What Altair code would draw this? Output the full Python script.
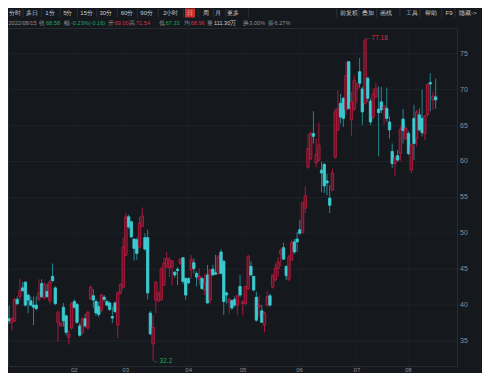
import altair as alt
import pandas as pd

# ---------------- data ----------------
opens = [38.1, 37.6, 37.8, 40.8, 41.2, 42.4, 43.2, 41.4, 40.6, 40.0,
         40.0, 40.8, 43.0, 41.0, 41.9, 40.6, 44.0, 42.4, 37.6, 37.1,
         39.7, 38.5, 35.5, 36.8, 40.5, 40.1, 37.1, 36.2, 38.1, 36.8,
         40.9, 41.3, 40.5, 39.8, 39.3, 41.1, 40.5, 40.3, 38.4, 40.3,
         37.2, 41.7, 42.5, 47.0, 52.3, 51.6, 49.2, 49.1, 48.1, 51.0,
         49.4, 49.4, 38.9, 34.6, 40.7, 40.6, 40.8, 42.8, 45.3, 45.2,
         45.3, 44.6, 45.0, 45.8, 46.6, 43.7, 43.7, 44.9, 45.9, 44.4,
         43.6, 43.7, 42.1, 44.2, 40.7, 45.0, 44.5, 44.4, 47.4, 46.1,
         41.7, 40.4, 40.6, 40.8, 40.0, 42.6, 40.2, 40.2, 42.3, 45.4,
         44.0, 41.1, 39.8, 39.2, 37.2, 40.0, 41.3, 42.5, 43.5, 45.1,
         47.1, 48.0, 45.4, 43.6, 46.3, 48.8, 49.2, 50.5, 50.1, 53.5,
         59.2, 60.4, 63.9, 59.8, 60.2, 58.8, 59.6, 57.3, 54.9, 56.0,
         60.6, 64.4, 68.1, 68.8, 67.2, 73.9, 65.8, 67.3, 70.1, 72.5,
         70.1, 68.1, 71.6, 68.4, 66.2, 69.0, 67.3, 68.3, 67.3, 67.4,
         65.5, 61.4, 59.7, 60.8, 61.1, 65.9, 63.2, 63.9, 58.8, 66.0,
         63.2, 66.5, 66.0, 63.9, 66.5, 71.0, 68.6, 69.00]
highs = [39.9, 38.3, 41.0, 41.2, 43.7, 43.2, 43.3, 41.6, 41.2, 41.2,
         41.2, 43.6, 43.6, 43.2, 43.0, 43.5, 45.8, 42.6, 39.2, 37.6,
         40.3, 38.7, 36.5, 40.4, 40.8, 40.3, 37.5, 38.3, 38.8, 39.2,
         42.7, 42.2, 40.8, 40.5, 41.6, 41.4, 40.8, 40.5, 39.8, 40.5,
         41.9, 43.0, 49.4, 52.8, 52.6, 51.8, 49.3, 49.4, 52.3, 53.6,
         50.0, 50.5, 39.2, 38.6, 43.3, 41.9, 45.3, 46.6, 47.4, 46.7,
         46.3, 44.7, 45.3, 46.5, 46.7, 43.9, 43.9, 47.0, 46.5, 44.7,
         45.1, 44.0, 44.4, 45.6, 45.0, 45.6, 47.0, 47.0, 47.8, 46.3,
         41.9, 41.0, 40.8, 41.2, 41.4, 44.2, 40.6, 42.7, 47.0, 46.1,
         44.1, 41.9, 41.3, 40.0, 39.1, 41.9, 41.6, 44.3, 45.8, 46.7,
         47.9, 48.7, 45.5, 47.0, 49.1, 49.2, 50.2, 51.9, 54.4, 56.5,
         63.9, 64.2, 67.0, 63.2, 65.4, 60.0, 59.8, 58.3, 56.7, 59.0,
         67.4, 69.9, 69.4, 69.0, 73.9, 74.0, 69.7, 72.0, 71.0, 74.4,
         70.4, 77.18, 71.8, 68.8, 70.2, 71.0, 70.5, 70.4, 67.9, 70.3,
         66.3, 62.5, 60.8, 61.6, 64.9, 67.3, 64.9, 64.2, 62.5, 67.9,
         67.2, 67.4, 70.0, 66.5, 70.9, 72.3, 69.7, 71.54]
lows = [37.4, 36.5, 37.6, 40.0, 40.7, 41.9, 39.8, 38.9, 39.8, 37.2,
        39.3, 40.6, 41.0, 40.8, 41.0, 40.2, 43.2, 40.0, 34.9, 37.0,
        37.0, 35.8, 34.5, 36.6, 39.5, 37.4, 35.6, 36.0, 36.9, 36.6,
        40.7, 39.6, 38.5, 38.3, 39.0, 40.5, 39.8, 39.2, 37.5, 38.9,
        35.4, 41.5, 42.3, 46.8, 50.6, 49.3, 46.2, 46.3, 47.9, 50.8,
        47.6, 40.8, 35.8, 32.2, 38.9, 40.4, 40.6, 42.7, 45.2, 43.9,
        42.8, 43.8, 42.8, 45.6, 42.9, 40.7, 42.9, 43.7, 44.4, 42.6,
        42.8, 42.1, 41.4, 40.2, 40.2, 44.1, 44.2, 44.3, 44.3, 38.6,
        40.2, 38.8, 39.3, 39.8, 38.6, 41.1, 38.6, 40.0, 42.1, 44.0,
        41.9, 37.7, 38.4, 37.5, 36.2, 39.8, 39.8, 42.3, 43.3, 44.0,
        45.4, 46.3, 43.5, 43.3, 46.2, 47.1, 47.4, 49.8, 50.0, 52.8,
        59.0, 60.2, 62.5, 59.2, 60.0, 55.7, 55.6, 55.3, 52.8, 55.9,
        60.4, 64.2, 65.3, 64.8, 66.5, 67.2, 63.5, 67.0, 68.1, 70.3,
        65.1, 67.9, 68.3, 65.1, 65.9, 68.8, 60.7, 66.7, 65.1, 65.5,
        63.2, 59.1, 57.9, 60.0, 60.1, 62.5, 63.0, 60.9, 58.4, 60.2,
        62.1, 64.2, 63.5, 63.0, 66.3, 67.0, 67.2, 67.33]
closes = [37.8, 38.1, 40.8, 40.2, 42.0, 42.0, 40.0, 40.7, 40.0, 39.7,
          39.5, 41.7, 41.2, 42.8, 41.2, 43.2, 43.4, 40.2, 39.0, 37.5,
          37.8, 36.2, 36.0, 40.2, 39.7, 37.6, 35.8, 38.1, 37.1, 39.0,
          42.5, 40.7, 38.9, 38.7, 41.4, 40.8, 40.0, 39.4, 38.2, 39.1,
          41.7, 42.9, 48.1, 52.3, 50.9, 49.5, 47.9, 47.2, 51.4, 52.4,
          47.8, 41.7, 36.0, 36.9, 43.2, 41.6, 45.0, 45.8, 46.5, 46.3,
          46.1, 44.2, 44.8, 46.4, 43.3, 41.4, 43.1, 46.3, 45.1, 43.9,
          44.0, 42.3, 43.0, 40.3, 44.9, 44.2, 44.3, 46.7, 44.4, 40.5,
          41.4, 40.8, 39.6, 40.0, 41.3, 41.4, 40.5, 42.6, 46.8, 44.2,
          42.1, 37.9, 40.0, 37.6, 38.9, 41.2, 40.0, 44.1, 45.1, 46.0,
          47.6, 46.4, 44.1, 46.7, 48.7, 47.4, 48.8, 50.0, 54.3, 55.2,
          61.8, 63.9, 63.5, 61.0, 62.3, 58.4, 56.6, 57.0, 53.9, 58.4,
          66.9, 67.3, 66.2, 66.0, 72.0, 67.4, 68.3, 71.3, 70.7, 70.9,
          66.9, 76.9, 68.8, 65.5, 69.4, 70.2, 66.8, 67.2, 67.7, 66.0,
          64.4, 59.7, 60.4, 60.2, 64.5, 64.3, 64.6, 61.1, 62.3, 62.5,
          66.9, 64.4, 64.0, 66.3, 70.7, 70.8, 69.1, 68.58]

month_labels = ["02", "03", "04", "05", "06", "07", "08"]
month_pos = [24.0, 42.9, 66.1, 86.1, 106.9, 128.0, 146.9]
price_ticks = [35, 40, 45, 50, 55, 60, 65, 70, 75]

toolbar_left = ["分时", "多日", "1分", "5分", "15分", "30分", "60分", "90分",
                "2小时", "日", "周", "月", "更多"]
toolbar_right = ["前复权", "叠加", "画线", "工具", "帮助", "F9", "隐藏->"]

info_texts = ["2022/08/15", "收", "68.58", "幅", "-0.23%(-0.16)", "开", "69.00",
              "高", "71.54", "低", "67.33", "均", "68.96", "量", "111.30万",
              "换", "3.00%", "振", "6.27%"]

# ---------------- layout / style ----------------
W, H = 449, 338
BG = "#15181d"
GRID = "#1f242a"
RED = "#c41d44"
RED_FILL = "#5e1426"
RED_WICK = "#a8183c"
CYAN = "#3ccbd2"
CYAN_WICK = "#24878f"
GREEN = "#1ea765"
RED_TXT = "#d8304a"
TXT = "#c9ccd1"
GRAY = "#8d9198"
FONT = "Liberation Sans"

toolbar_left_x = [6.5, 23.7, 42, 59.8, 78.7, 97.8, 119, 138.7, 162.8, 182, 197.7, 210.3, 225.3]
toolbar_right_x = [340.7, 359.5, 378, 403.7, 423, 441, 460]
sep_x = [15, 33.7, 52, 69.3, 88.7, 109.3, 129.3, 150.3, 175.3, 190.3, 205.3,
         217.7, 240.3, 328.7, 351, 368.7, 392, 412, 433.7, 447]
info_x = [0.5, 31, 38, 56.3, 63, 100.3, 106.5, 121.3, 128, 151.3, 157.7,
          176.3, 182.7, 199.3, 206, 234.8, 241.3, 260.3, 266.5]
info_kind = ["g", "g", "d", "g", "d", "g", "u", "g", "u", "g", "d", "g", "u",
             "g", "w", "g", "g", "g", "g"]
kind_color = {"g": GRAY, "d": GREEN, "u": RED_TXT, "w": TXT}

df = pd.DataFrame({"k": list(range(len(opens))), "open": opens, "high": highs,
                   "low": lows, "close": closes})

xs = alt.Scale(domain=[1.44, 163.0], nice=False, zero=False)
ys = alt.Scale(domain=[31.52, 78.59], nice=False, zero=False)
up = "datum.close >= datum.open"

ticks_df = pd.DataFrame({"p": price_ticks, "lab": [str(p) for p in price_ticks]})
hgrid = alt.Chart(ticks_df).mark_rule(color=GRID, strokeWidth=1).encode(
    y=alt.Y("p:Q", scale=ys, axis=None))
ylabels = alt.Chart(ticks_df).mark_text(
    align="left", baseline="middle", fontSize=7, color=GRAY, font=FONT
).encode(y=alt.Y("p:Q", scale=ys, axis=None), x=alt.value(W + 3), text="lab:N")

vgrid = alt.Chart(pd.DataFrame({"pos": month_pos})).mark_rule(
    color="#1b1f25", strokeWidth=1).encode(x=alt.X("pos:Q", scale=xs, axis=None))

wick = alt.Chart(df).mark_rule(strokeWidth=1, clip=True).encode(
    x=alt.X("k:Q", scale=xs, axis=None),
    y=alt.Y("low:Q", scale=ys, axis=None),
    y2="high:Q",
    color=alt.condition(up, alt.value(RED_WICK), alt.value(CYAN_WICK)),
)

body = alt.Chart(df).mark_bar(width=2.4, clip=True, strokeWidth=0.8).encode(
    x=alt.X("k:Q", scale=xs, axis=None),
    y=alt.Y("open:Q", scale=ys, axis=None),
    y2="close:Q",
    fill=alt.condition(up, alt.value(RED_FILL), alt.value(CYAN)),
    stroke=alt.condition(up, alt.value(RED), alt.value(CYAN)),
)

k_low = lows.index(min(lows))
k_high = highs.index(max(highs))
low_ann = alt.Chart(pd.DataFrame({"k": [k_low], "v": [lows[k_low]],
                                  "t": ["←" + str(lows[k_low])]})).mark_text(
    align="left", baseline="middle", fontSize=6.5, color=GREEN, font=FONT
).encode(x=alt.X("k:Q", scale=xs, axis=None), y=alt.Y("v:Q", scale=ys, axis=None), text="t:N")
high_ann = alt.Chart(pd.DataFrame({"k": [k_high], "v": [highs[k_high]],
                                   "t": ["←" + str(highs[k_high])]})).mark_text(
    align="left", baseline="middle", fontSize=6.5, color=RED_TXT, font=FONT
).encode(x=alt.X("k:Q", scale=xs, axis=None), y=alt.Y("v:Q", scale=ys, axis=None), text="t:N")

months = alt.Chart(pd.DataFrame({"pos": month_pos, "lab": month_labels})).mark_text(
    align="center", baseline="alphabetic", fontSize=6, color=GRAY, font=FONT
).encode(x=alt.X("pos:Q", scale=xs, axis=None), y=alt.value(H + 6), text="lab:N")

# header: toolbar
tb = pd.DataFrame({"t": toolbar_left + toolbar_right,
                   "px": toolbar_left_x + toolbar_right_x})
sel_box = alt.Chart(pd.DataFrame({"a": [0]})).mark_rect(color="#c9302f").encode(
    x=alt.value(177), x2=alt.value(187), y=alt.value(-19.5), y2=alt.value(-10.5))
toolbar = alt.Chart(tb).mark_text(
    align="center", baseline="middle", fontSize=6, color=TXT, font=FONT
).encode(x=alt.X("px:Q", scale=None), y=alt.value(-15), text="t:N")
seps = alt.Chart(pd.DataFrame({"px": sep_x})).mark_rule(color="#2b3037").encode(
    x=alt.X("px:Q", scale=None), y=alt.value(-19.5), y2=alt.value(-10.5))
info = alt.Chart(pd.DataFrame({"t": info_texts, "px": info_x,
                               "c": [kind_color[k] for k in info_kind]})).mark_text(
    align="left", baseline="middle", fontSize=5.6, font=FONT
).encode(x=alt.X("px:Q", scale=None), y=alt.value(-5.5), text="t:N",
         color=alt.Color("c:N", scale=None))

chart = alt.layer(
    hgrid, vgrid, wick, body, low_ann, high_ann, months, ylabels,
    sel_box, toolbar, seps, info
).properties(
    width=W, height=H,
    padding={"left": 0, "top": 20, "right": 25, "bottom": 7},
    autosize=alt.AutoSizeParams(type="none"),
).configure(background=BG).configure_view(stroke="#272c33", strokeWidth=1)

chart.save("out.html", embed_options={"renderer": "svg", "actions": False})
